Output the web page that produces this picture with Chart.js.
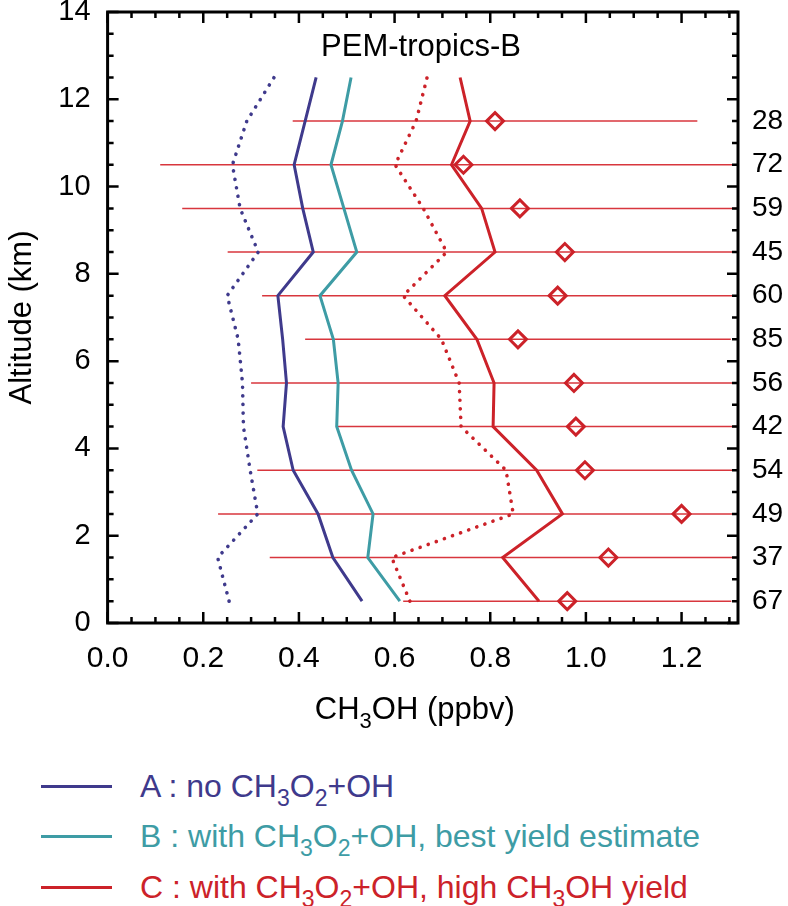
<!DOCTYPE html>
<html>
<head>
<meta charset="utf-8">
<script src="https://cdn.jsdelivr.net/npm/chart.js@4.4.1/dist/chart.umd.min.js"></script>
<style>
  body { margin: 0; background: #fff; font-family: "Liberation Sans", Arial, Helvetica, sans-serif; }
  #wrap { position: relative; width: 788px; height: 906px; }
  #box { position: absolute; left: 0; top: 0; width: 788px; height: 760px; }
  .row { position: absolute; left: 0; height: 50px; display: flex; align-items: center; font-size: 32px; white-space: nowrap; }
  .row .ln { position: absolute; left: 41px; width: 71px; height: 3px; }
  .row .tx { position: absolute; left: 140px; }
  sub { font-size: 0.72em; vertical-align: -0.38em; line-height: 0; }
</style>
</head>
<body>
<div id="wrap">
  <div id="box"><canvas id="chart"></canvas></div>
  <div class="row" style="top:761px"><span class="ln" style="background:#3f3a8c"></span><span class="tx" style="color:#3f3a8c">A : no CH<sub>3</sub>O<sub>2</sub>+OH</span></div>
  <div class="row" style="top:811px"><span class="ln" style="background:#3e9ca5"></span><span class="tx" style="color:#3e9ca5">B : with CH<sub>3</sub>O<sub>2</sub>+OH, best yield estimate</span></div>
  <div class="row" style="top:862px"><span class="ln" style="background:#cc2229"></span><span class="tx" style="color:#cc2229">C : with CH<sub>3</sub>O<sub>2</sub>+OH, high CH<sub>3</sub>OH yield</span></div>
</div>
<script>
// altitude levels (km), bottom to top
const altitudes = [0.5, 1.5, 2.5, 3.5, 4.5, 5.5, 6.5, 7.5, 8.5, 9.5, 10.5, 11.5, 12.5];

// model profiles (ppbv)
const caseA       = [0.532, 0.471, 0.440, 0.388, 0.367, 0.374, 0.366, 0.356, 0.430, 0.408, 0.390, 0.413, 0.436];
const caseAdotted = [0.254, 0.230, 0.314, 0.298, 0.284, 0.282, 0.273, 0.250, 0.315, 0.277, 0.261, 0.291, 0.348];
const caseB       = [0.611, 0.544, 0.555, 0.510, 0.479, 0.482, 0.472, 0.444, 0.521, 0.494, 0.467, 0.491, 0.509];
const caseC       = [0.902, 0.826, 0.951, 0.897, 0.806, 0.808, 0.772, 0.705, 0.810, 0.782, 0.719, 0.758, 0.737];
const caseCdotted = [0.632, 0.594, 0.848, 0.833, 0.739, 0.735, 0.698, 0.618, 0.709, 0.660, 0.601, 0.645, 0.668];

// observations: mean, spread and number of samples (0.5 .. 11.5 km)
const obsAlt    = [0.5, 1.5, 2.5, 3.5, 4.5, 5.5, 6.5, 7.5, 8.5, 9.5, 10.5, 11.5];
const obsMean   = [0.961, 1.047, 1.200, 0.998, 0.979, 0.975, 0.858, 0.941, 0.956, 0.862, 0.744, 0.810];
const obsSpread = [0.343, 0.708, 0.969, 0.685, 0.500, 0.675, 0.445, 0.618, 0.705, 0.706, 0.634, 0.423];
const obsCount  = [67, 37, 49, 54, 42, 56, 85, 60, 45, 59, 72, 28];

const xTicks = [0, 0.2, 0.4, 0.6, 0.8, 1.0, 1.2];
const yTicks = [0, 2, 4, 6, 8, 10, 12, 14];

const PURPLE = "#3f3a8c";
const TEAL = "#3e9ca5";
const RED = "#cc2229";
const FONT = "'Liberation Sans', Arial, Helvetica, sans-serif";

function profile(vals, color, dotted) {
  return {
    data: vals.map((v, i) => ({ x: v, y: altitudes[i] })),
    borderColor: color,
    borderWidth: dotted ? 3.6 : 3,
    borderDash: dotted ? [0.1, 8.5] : [],
    borderCapStyle: dotted ? "round" : "butt",
    pointRadius: 0,
    order: 1,
  };
}

const datasets = [];

// spread bars
obsAlt.forEach((a, i) => {
  datasets.push({
    data: [
      { x: obsMean[i] - obsSpread[i], y: a },
      { x: obsMean[i] + obsSpread[i], y: a },
    ],
    borderColor: "#d8363d",
    borderWidth: 1.5,
    pointRadius: 0,
    order: 5,
  });
});

datasets.push(profile(caseAdotted, PURPLE, true));
datasets.push(profile(caseA, PURPLE, false));
datasets.push(profile(caseB, TEAL, false));
datasets.push(profile(caseCdotted, RED, true));
datasets.push(profile(caseC, RED, false));

// observed means
datasets.push({
  data: obsMean.map((v, i) => ({ x: v, y: obsAlt[i] })),
  showLine: false,
  pointStyle: "rectRot",
  pointRadius: 8.5,
  pointBorderWidth: 3,
  pointBorderColor: RED,
  pointBackgroundColor: "rgba(255,255,255,0)",
  order: 0,
});

// frame with inward ticks on all four sides, plus texts with subscripts
const frameTicks = {
  id: "frameTicks",
  afterDraw(chart) {
    const { ctx, chartArea: a, scales } = chart;
    const x = scales.x, y = scales.y;
    ctx.save();
    ctx.strokeStyle = "#000";
    ctx.lineWidth = 2.5;
    for (let i = 0; i * 0.05 <= x.max + 1e-9; i++) {
      const px = x.getPixelForValue(i * 0.05);
      const len = i % 4 === 0 ? 11 : 6;
      ctx.beginPath();
      ctx.moveTo(px, a.bottom); ctx.lineTo(px, a.bottom - len);
      ctx.moveTo(px, a.top); ctx.lineTo(px, a.top + len);
      ctx.stroke();
    }
    for (let i = 0; i * 0.5 <= y.max + 1e-9; i++) {
      const py = y.getPixelForValue(i * 0.5);
      const len = i % 4 === 0 ? 11 : 6;
      ctx.beginPath();
      ctx.moveTo(a.left, py); ctx.lineTo(a.left + len, py);
      ctx.moveTo(a.right, py); ctx.lineTo(a.right - len, py);
      ctx.stroke();
    }
    ctx.lineWidth = 3;
    ctx.strokeRect(a.left, a.top, a.right - a.left, a.bottom - a.top);

    // panel label
    ctx.fillStyle = "#000";
    ctx.font = "31px " + FONT;
    ctx.textAlign = "center";
    ctx.textBaseline = "alphabetic";
    ctx.fillText("PEM-tropics-B", 421, 56);

    // x axis title
    const parts = [["CH", false], ["3", true], ["OH (ppbv)", false]];
    const big = "31px " + FONT, small = "22px " + FONT;
    let w = 0;
    parts.forEach(p => { ctx.font = p[1] ? small : big; w += ctx.measureText(p[0]).width; });
    let cx = (a.left + a.right) / 2 - 8 - w / 2;
    ctx.textAlign = "left";
    parts.forEach(p => {
      ctx.font = p[1] ? small : big;
      ctx.fillText(p[0], cx, p[1] ? 728 : 719);
      cx += ctx.measureText(p[0]).width;
    });
    ctx.restore();
  },
};

new Chart(document.getElementById("chart"), {
  type: "line",
  data: { datasets: datasets },
  plugins: [frameTicks],
  options: {
    responsive: true,
    maintainAspectRatio: false,
    animation: false,
    layout: { padding: { top: 12, left: 0, right: 0, bottom: 0 } },
    plugins: { legend: { display: false }, tooltip: { enabled: false } },
    scales: {
      x: {
        type: "linear",
        min: 0,
        max: 1.318,
        afterBuildTicks: (s) => { s.ticks = xTicks.map(v => ({ value: v })); },
        afterFit: (s) => { s.height = 137; s.paddingLeft = 0; s.paddingRight = 0; },
        grid: { display: false, drawTicks: false },
        border: { display: false },
        ticks: {
          color: "#000",
          padding: 18,
          font: { family: FONT, size: 30 },
          callback: (v) => v.toFixed(1),
          maxRotation: 0,
        },
      },
      y: {
        type: "linear",
        position: "left",
        min: 0,
        max: 14,
        afterBuildTicks: (s) => { s.ticks = yTicks.map(v => ({ value: v })); },
        afterFit: (s) => { s.width = 107.6; s.paddingTop = 0; s.paddingBottom = 0; },
        grid: { display: false, drawTicks: false },
        border: { display: false },
        ticks: { color: "#000", padding: 17, font: { family: FONT, size: 29 } },
        title: {
          display: true,
          text: "Altitude (km)",
          color: "#000",
          font: { family: FONT, size: 31 },
          padding: { top: 4, bottom: 0 },
        },
      },
      y2: {
        type: "linear",
        position: "right",
        min: 0,
        max: 14,
        afterBuildTicks: (s) => { s.ticks = obsAlt.map(v => ({ value: v })); },
        afterFit: (s) => { s.width = 50; s.paddingTop = 0; s.paddingBottom = 0; },
        grid: { display: false, drawTicks: false },
        border: { display: false },
        ticks: {
          color: "#000",
          padding: 14,
          font: { family: FONT, size: 28 },
          callback: (v) => obsCount[obsAlt.indexOf(v)],
        },
      },
    },
  },
});
</script>
</body>
</html>
